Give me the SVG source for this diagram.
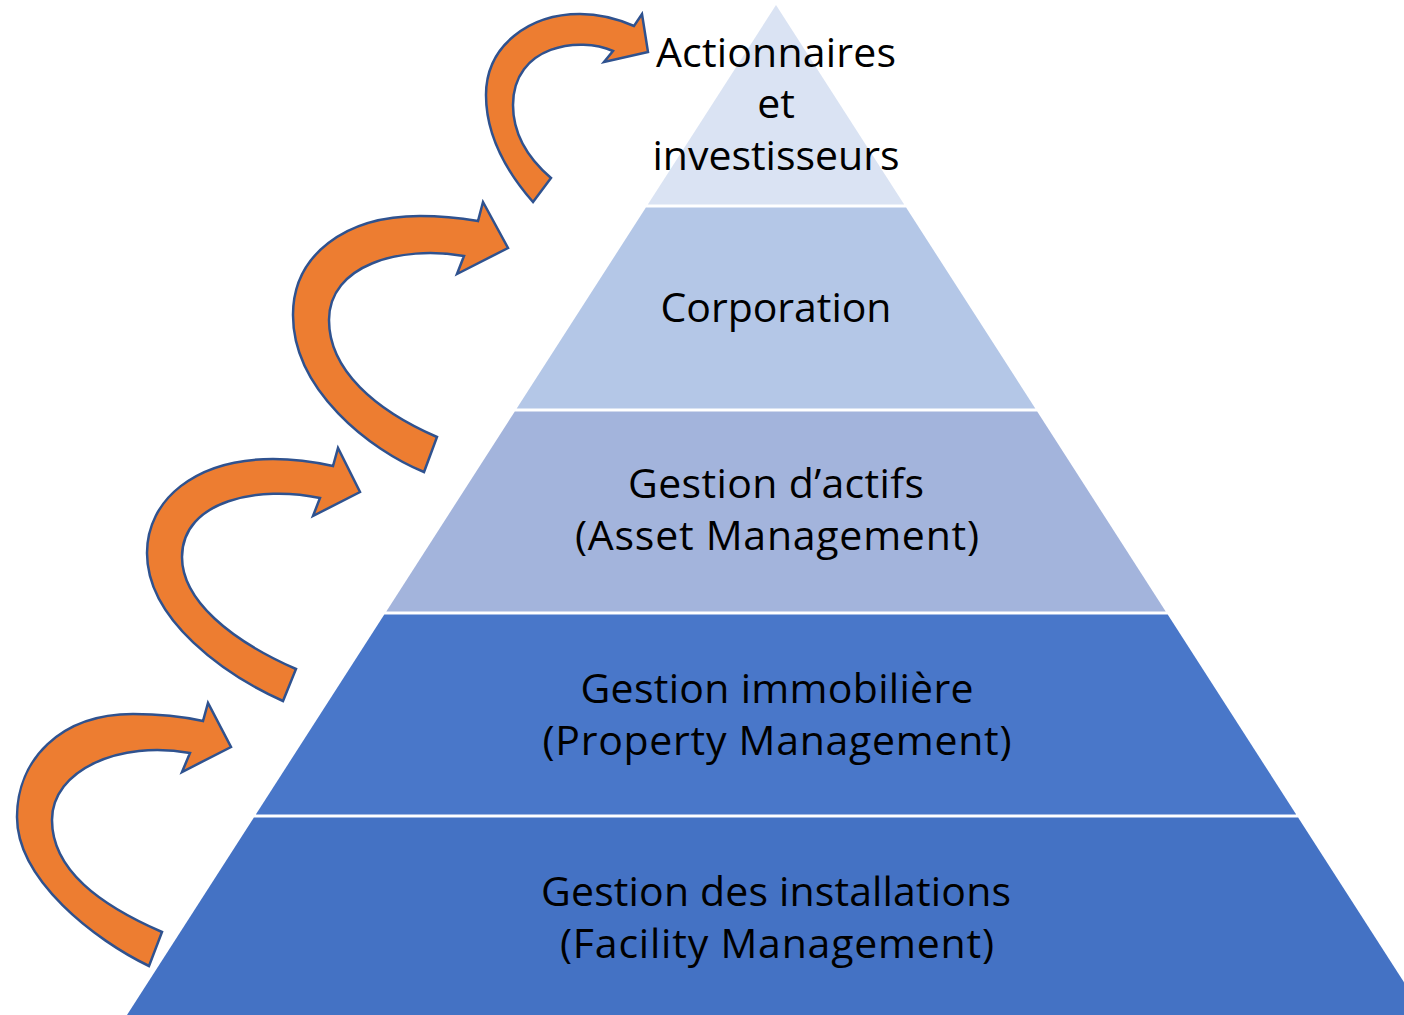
<svg xmlns="http://www.w3.org/2000/svg" width="1404" height="1015" viewBox="0 0 1404 1015">
  <style>
    .label { font-family: "Open Sans", "Liberation Sans", sans-serif; font-size: 41px; fill: #000000; text-anchor: middle; }
    .step { fill: #ED7D31; stroke: #2F528F; stroke-width: 2.5; stroke-linejoin: miter; }
  </style>
  <rect x="0" y="0" width="1404" height="1015" fill="#FFFFFF"/>

  <!-- Pyramid levels, top to bottom -->
  <g id="level-actionnaires">
    <polygon points="776,5 904.2,204.5 647.8,204.5" fill="#DAE3F3"/>
    <text class="label" x="776" y="67" textLength="240">Actionnaires</text>
    <text class="label" x="776" y="118">et</text>
    <text class="label" x="776" y="170">investisseurs</text>
  </g>
  <g id="level-corporation">
    <polygon points="645.9,207.5 906.1,207.5 1035.3,408.5 516.7,408.5" fill="#B4C7E7"/>
    <text class="label" x="776" y="322" textLength="231">Corporation</text>
  </g>
  <g id="level-asset">
    <polygon points="514.8,411.5 1037.2,411.5 1165.7,611.5 386.3,611.5" fill="#A3B4DC"/>
    <text class="label" x="776" y="498" textLength="296">Gestion d’actifs</text>
    <text class="label" x="777" y="550" textLength="404">(Asset Management)</text>
  </g>
  <g id="level-property">
    <polygon points="384.3,614.5 1167.7,614.5 1296.2,814.5 255.8,814.5" fill="#4977C9"/>
    <text class="label" x="777" y="703" textLength="393">Gestion immobilière</text>
    <text class="label" x="777" y="755" textLength="469">(Property Management)</text>
  </g>
  <g id="level-facility">
    <polygon points="253.9,817.5 1298.1,817.5 1425,1015 127,1015" fill="#4472C4"/>
    <text class="label" x="776" y="906" textLength="470">Gestion des installations</text>
    <text class="label" x="777" y="958" textLength="434">(Facility Management)</text>
  </g>

  <!-- Curved arrows climbing from one level to the next -->
  <g id="connectors">
    <path class="step" d="M149,966 C95,940 17,880 17,817 C17,760 60,714 133,714 C160,714 185,717 203,721 L208,703 L231,747 L182,772 L190,753 C120,740 52,770 52,820 C52,870 100,905 162,932 Z"/>
    <path class="step" d="M283,701 C225,675 147,620 147,553 C147,500 195,459 273,459 C295,459 315,462 333,466 L338,448 L360,492 L313,516 L320,498 C260,485 182,500 182,557 C182,600 230,640 296,669 Z"/>
    <path class="step" d="M424,472 C370,450 293,390 293,315 C293,255 345,216 420,216 C440,216 460,218 478,221 L483,202 L508,248 L457,274 L464,256 C400,245 329,265 329,320 C329,370 375,410 437,437 Z"/>
    <path class="step" d="M533,202 C505,170 486,135 486,95 C486,45 530,14 580,14 C600,14 618,19 634,26 L642,14 L648,52 L604,62 L613,51 C580,36 513,45 513,105 C513,135 530,160 551,178 Z"/>
  </g>
</svg>
